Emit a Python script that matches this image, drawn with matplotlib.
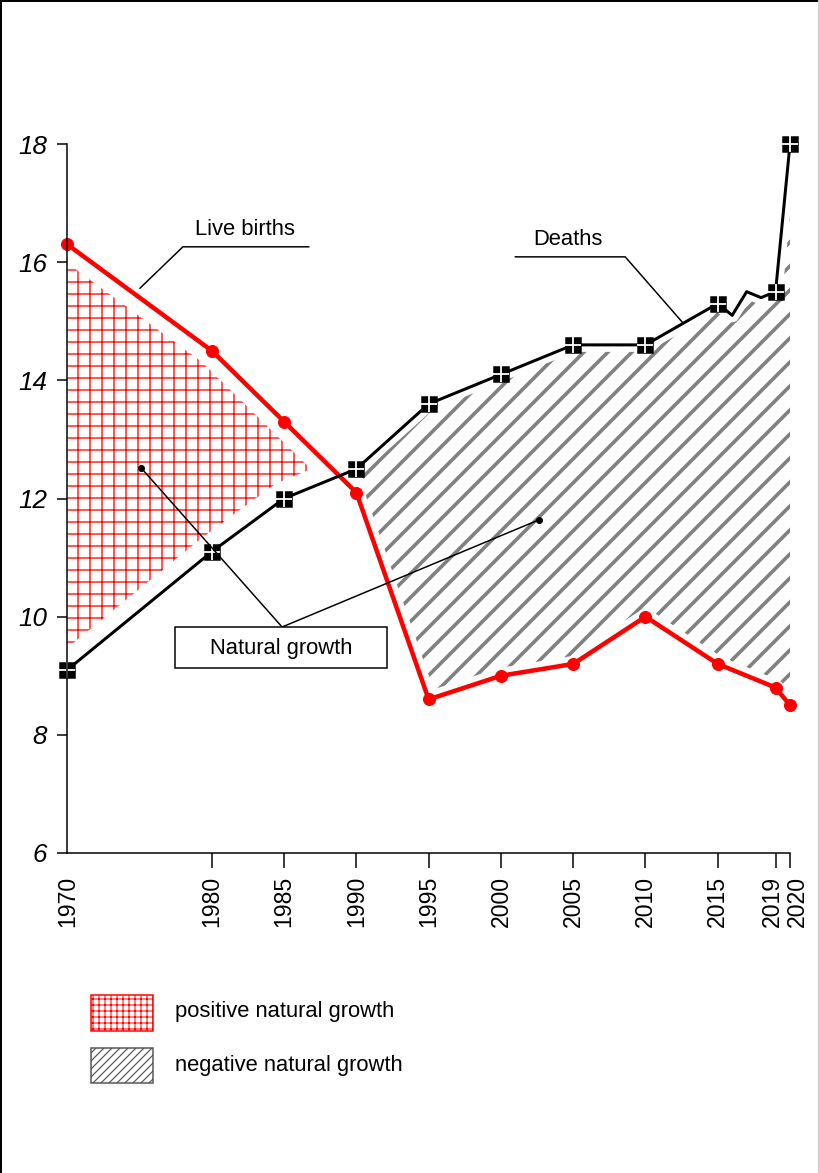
import matplotlib
matplotlib.use('Agg')
import matplotlib.pyplot as plt
import matplotlib.transforms as mtransforms
from matplotlib.patches import Rectangle
from matplotlib.lines import Line2D
import numpy as np

# ---------------- data ----------------
years = [1970, 1980, 1985, 1990, 1995, 2000, 2005, 2010, 2015, 2016, 2017, 2018, 2019, 2020]
births = [16.3, 14.5, 13.3, 12.1, 8.6, 9.0, 9.2, 10.0, 9.2, 9.1, 9.0, 8.9, 8.8, 8.5]
deaths = [9.1, 11.1, 12.0, 12.5, 13.6, 14.1, 14.6, 14.6, 15.3, 15.1, 15.5, 15.4, 15.5, 18.0]
marker_years = [1970, 1980, 1985, 1990, 1995, 2000, 2005, 2010, 2015, 2019, 2020]
xtick_labels = [str(y) for y in marker_years]
yticks = [6, 8, 10, 12, 14, 16, 18]

label_births = "Live births"
label_deaths = "Deaths"
label_growth = "Natural growth"
legend_labels = ["positive natural growth", "negative natural growth"]

plt.rcParams['font.family'] = ['Liberation Sans', 'DejaVu Sans']

W, H, DPI = 819, 1173, 72
fig = plt.figure(figsize=(W / DPI, H / DPI), dpi=DPI)
fig.patch.set_facecolor('white')


def fx(px):
    return px / W


def fy(py):
    return 1 - py / H


ax = fig.add_axes([fx(67.3), fy(853), (790 - 67.3) / W, (853 - 144) / H])
ax.set_xlim(1970, 2020)
ax.set_ylim(6, 18)

x = np.array(years, dtype=float)
b = np.array(births)
d = np.array(deaths)
mk = [years.index(y) for y in marker_years]
split = years.index(1990)

# ---------------- hatched fills ----------------
with plt.rc_context({'hatch.linewidth': 1.3}):
    pos = ax.fill_between(x, d, b, where=b >= d, interpolate=True, facecolor='white',
                          edgecolor='#ff0000', hatch='+', linewidth=0, zorder=1)
with plt.rc_context({'hatch.linewidth': 3.6}):
    neg = ax.fill_between(x, b, d, where=d >= b, interpolate=True, facecolor='white',
                          edgecolor='#808080', hatch='/', linewidth=0, zorder=1)

# white margins between lines and hatching
ax.plot(x[:split + 1], b[:split + 1], color='white', lw=30, solid_capstyle='butt', zorder=2)
ax.plot(x[:split + 1], d[:split + 1], color='white', lw=34, solid_capstyle='butt', zorder=2)
ax.plot(x[split:], b[split:], color='white', lw=16, solid_capstyle='butt', zorder=2)
ax.plot(x[split:], d[split:], color='white', lw=14, solid_capstyle='butt', zorder=2)

# ---------------- data lines ----------------
ax.plot(x, b, color='#ff0000', lw=4.5, marker='o', ms=12, markevery=mk,
        clip_on=False, zorder=5)
ax.plot(x, d, color='black', lw=3, marker='s', ms=15, mew=1.5, markevery=mk,
        clip_on=False, zorder=6)
ax.plot(x[mk], d[mk], ls='none', marker='+', ms=16, mew=1.8, color='white',
        clip_on=False, zorder=7)

# ---------------- axes styling ----------------
for s in ['top', 'right']:
    ax.spines[s].set_visible(False)
for s in ['left', 'bottom']:
    ax.spines[s].set_linewidth(1.5)
    ax.spines[s].set_zorder(10)

ax.set_yticks(yticks)
ax.set_yticklabels([str(v) for v in yticks], fontsize=26, style='italic')
ax.set_xticks(marker_years)
ax.set_xticklabels(xtick_labels, fontsize=23, rotation=90)
ax.tick_params(axis='y', direction='out', length=10, width=1.5, pad=10)
ax.tick_params(axis='x', direction='out', length=15, width=1.5, pad=8)
ax.xaxis.get_major_ticks()[0].tick1line.set_visible(False)
for lab in ax.get_xticklabels():
    t = lab.get_text()
    if t == '2020':
        lab.set_transform(lab.get_transform() + mtransforms.ScaledTranslation(7 / DPI, 0, fig.dpi_scale_trans))
    elif t == '2019':
        lab.set_transform(lab.get_transform() + mtransforms.ScaledTranslation(-3 / DPI, 0, fig.dpi_scale_trans))

# ---------------- annotations ----------------
ax.text(1982.3, 16.56, label_births, ha='center', va='center', fontsize=22, zorder=9)
ax.plot([1975.03, 1978.0, 1986.7], [15.56, 16.26, 16.26], color='black', lw=1.5, zorder=8)

ax.text(2004.65, 16.38, label_deaths, ha='center', va='center', fontsize=22, zorder=9)
ax.plot([2012.6, 2008.6, 2001.0], [14.97, 16.09, 16.09], color='black', lw=1.5, zorder=8)

ax.plot([1975.1, 1984.86, 2002.64], [12.52, 9.825, 11.64], color='black', lw=1.5, zorder=8)
ax.plot([1975.1, 2002.64], [12.52, 11.64], ls='none', marker='o', ms=6, color='black', zorder=8)
ax.add_patch(Rectangle((1977.45, 9.13), 14.65, 0.695, facecolor='white', edgecolor='black',
                       lw=1.5, zorder=8, clip_on=False))
ax.text(1984.8, 9.46, label_growth, ha='center', va='center', fontsize=22, zorder=9)

# ---------------- legend ----------------
with plt.rc_context({'hatch.linewidth': 1.0}):
    r1 = Rectangle((fx(91), fy(1031)), 62 / W, 36 / H, transform=fig.transFigure,
                   facecolor='white', edgecolor='#ff0000', hatch='++', lw=1.5)
    fig.add_artist(r1)
with plt.rc_context({'hatch.linewidth': 1.2}):
    r2 = Rectangle((fx(91), fy(1083)), 62 / W, 35 / H, transform=fig.transFigure,
                   facecolor='white', edgecolor='#555555', hatch='///', lw=1.5)
    fig.add_artist(r2)
fig.text(fx(175), fy(1012), legend_labels[0], ha='left', va='center', fontsize=22)
fig.text(fx(175), fy(1065), legend_labels[1], ha='left', va='center', fontsize=22)

# ---------------- frame ----------------
fig.add_artist(Line2D([fx(1), fx(1)], [0, 1], transform=fig.transFigure, color='black', lw=2))
fig.add_artist(Line2D([0, 1], [fy(1), fy(1)], transform=fig.transFigure, color='black', lw=2))
fig.add_artist(Line2D([fx(817.5), fx(817.5)], [0, 1], transform=fig.transFigure, color='#d0d0d0', lw=1.2))

fig.savefig('out.png', dpi=DPI, facecolor='white')
